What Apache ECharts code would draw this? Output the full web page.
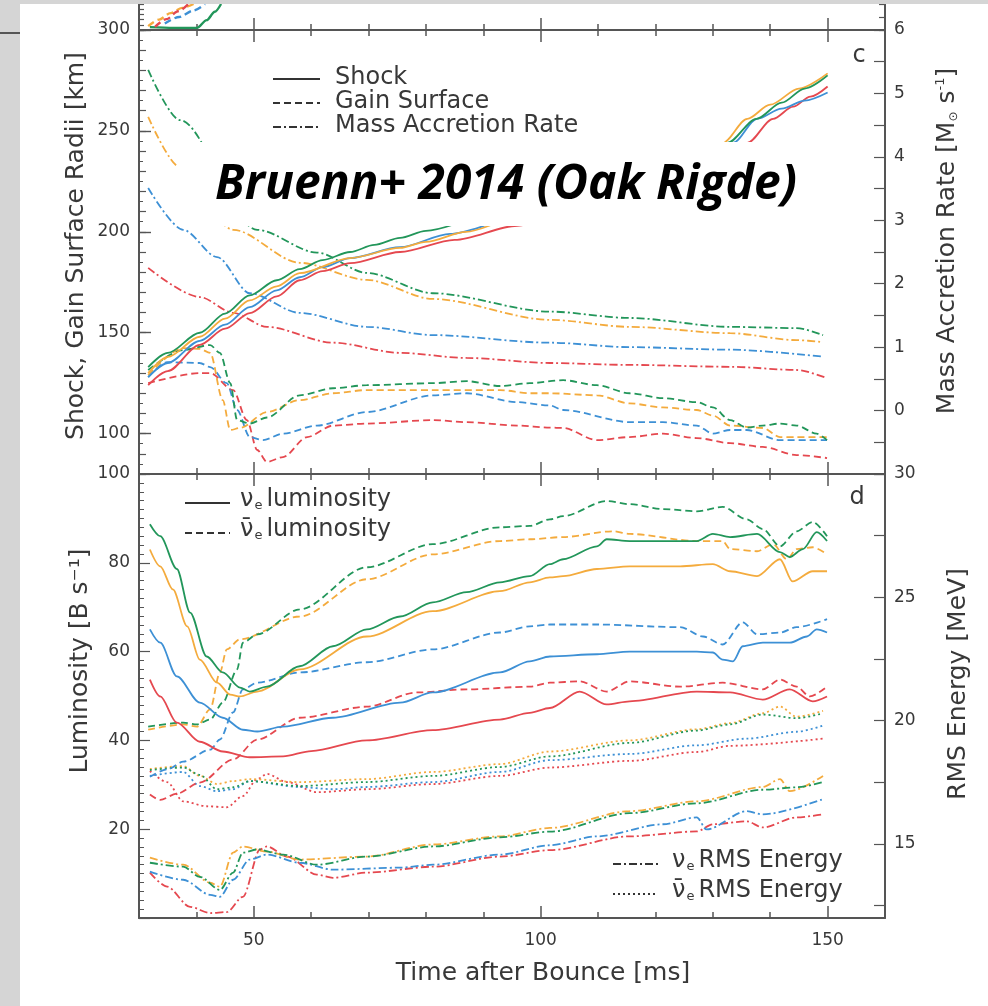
<!DOCTYPE html>
<html>
<head>
<meta charset="utf-8">
<script src="https://cdn.jsdelivr.net/npm/echarts@6/dist/echarts.min.js"></script>
<style>
  html, body { margin: 0; padding: 0; background: #ffffff; }
  #chart { width: 988px; height: 1006px; }
</style>
</head>
<body>
<div id="chart"></div>
<script>
// ---- model colours ----
const C12 = '#e5484f', C15 = '#3d90d5', C20 = '#f4ab3d', C25 = '#22965a';

// ---- axis tick labels ----
const timeLabels = [50, 100, 150];
const radiusLabels = [100, 150, 200, 250, 300];
const rmsTicks = [12.5, 15, 17.5, 20, 22.5, 25, 27.5, 30];
const rmsLabels = [15, 20, 25, 30];

// ---- panel b (bottom edge only) ----
const panelB_B25 = [[31.9,1.1],[36,0.8],[40.1,0.8],[41.8,3.8],[43.2,7],[44.3,10]];
const panelB_B20 = [[31.6,1.5],[33.5,4],[35.5,6.5],[37.5,8.5],[39.5,10]];
const panelB_B12 = [[32.8,1.2],[34.8,4.2],[36.8,7.2],[38.6,10]];
const panelB_B15 = [[34.5,2.5],[37,5],[39.5,7.5],[41.5,10]];

// ---- panel c: shock radius [km] ----
const shockB12 = [[31.6,124],[35,131],[40.6,144],[45,152],[49.3,159.7],[54,168],[58,176],[62,180.5],[66.8,184.5],[75.5,190],[85,196],[95.9,203],[105,210],[115,219],[125,229],[131,236],[136,244],[140.5,256],[144,262],[147,267],[150,272]];
const shockB15 = [[31.6,128],[35,135],[40.6,146],[45,154],[49.3,162.7],[54,171],[58,177.5],[62,182.5],[66.8,187],[75.5,192.4],[84.2,199],[95,206],[105,214],[115,223],[125,234],[133.5,244],[137.7,256],[142,261],[146,265],[150,269]];
const shockB20 = [[31.6,130],[35,138],[40.6,148],[45,157],[49.3,166],[54,173],[58,179.5],[66.8,187],[75.5,192],[80,195],[87,200],[95,206],[105,214],[115,224],[125,235],[131.7,244],[136,256],[140,263],[145,271],[150,278.5]];
const shockB25 = [[31.6,133],[35,140],[40.6,150],[45,159.5],[49.3,168.5],[54,176],[58,181.5],[62,186],[66.8,190],[71,193.5],[75.5,197],[80,200.5],[90,207],[100,214],[110,222],[120,230],[127,238],[132.5,244],[137.6,256],[142,264],[146,271],[150,277.5]];

// ---- panel c: gain surface radius [km] ----
const gainB12 = [[31.6,125],[40.6,130],[42.4,130],[46.4,121.6],[48.8,106.7],[50.6,91.9],[52.3,86],[55.1,88.4],[59.3,98.3],[63.8,104],[69.7,105],[81.2,106.7],[87.1,105.7],[95.9,104],[101.6,103],[103.9,102.8],[109.8,96.8],[115.5,98.3],[121.3,100],[127.2,97.8],[133,95.3],[138.7,93.4],[144.6,89.4],[149.9,87.9]];
const gainB15 = [[31.6,128],[34.9,135.4],[40.6,135],[42.4,133],[45.3,125],[47.1,111.7],[49.3,98.3],[51.6,96.8],[55.1,100],[61,104],[69.7,110.7],[81.2,119],[87.1,120],[95.9,115.6],[101.6,114],[103.9,111.7],[115.5,105.7],[121.3,105.7],[127.2,104],[130,100],[133,101.8],[135.9,101.8],[141.7,96.8],[149.9,96.8]];
const gainB20 = [[31.6,129],[37.7,142.4],[40.6,142],[42.4,140],[44.6,116.6],[45.9,101.8],[47.6,102.8],[52.3,110.7],[58,116.6],[63.8,120],[69.7,121.6],[81.2,121.6],[92.9,121.6],[98.1,120],[101.6,120],[109.8,119],[115.5,115],[121.3,113],[127.2,111.7],[130,109],[133,104],[138.7,102.8],[141.7,98.3],[144.6,98.3],[149.9,98.3]];
const gainB25 = [[31.6,131.5],[37.7,141.4],[42.4,143.9],[44.1,140],[45.9,125],[47.1,106.7],[49.3,105],[52.3,108],[58,119],[63.8,122.5],[69.7,124],[81.2,125],[87.1,126],[92.9,123.6],[98.1,125],[103.9,126.5],[109.8,124],[115.5,120],[121.3,117.6],[127.2,115.6],[130,113],[133,106.7],[135.9,103],[138.7,104],[141.7,105],[144.6,104],[148.1,100],[149.9,96.8]];

// ---- panel c: mass accretion rate [Msun/s] ----
const mdotB12 = [[31.6,2.25],[40.6,1.79],[46.4,1.54],[52.3,1.32],[63.8,1.07],[75.5,0.91],[87.1,0.83],[101.6,0.75],[115.5,0.72],[133,0.69],[144.6,0.64],[149.9,0.51]];
const mdotB15 = [[31.6,3.51],[37.7,2.85],[43.6,2.42],[49.3,1.85],[58,1.54],[69.7,1.32],[81.2,1.19],[101.6,1.07],[115.5,1.0],[133,0.96],[149.2,0.85]];
const mdotB20 = [[31.6,4.63],[37.1,3.84],[46.4,2.85],[58,2.33],[69.7,2.06],[81.2,1.76],[101.6,1.43],[115.5,1.32],[133,1.22],[144.6,1.11],[149.2,1.08]];
const mdotB25 = [[31.6,5.37],[37.1,4.58],[50.6,2.85],[61,2.49],[69.7,2.17],[81.2,1.85],[101.6,1.56],[115.5,1.46],[133,1.32],[144.6,1.3],[149.2,1.19]];

// ---- panel d: nu_e luminosity [B/s] ----
const lumNeB12 = [[31.9,53.7],[33.7,49.9],[36.6,44],[40.6,39.7],[44.6,37.5],[49.3,36.2],[55.1,36.4],[60,37.6],[69.7,40],[81.2,42.3],[92.9,44.7],[98.1,46.2],[101.6,47.3],[106.8,51],[111.5,48.1],[115.5,48.8],[127.2,51],[133,50.8],[138.7,49.2],[143.4,51.5],[147.4,48.8],[149.9,49.9]];
const lumNeB15 = [[31.9,65],[33.7,62],[36.6,54.4],[40.6,48.5],[44.6,45.1],[48.1,42.4],[50.6,42],[55.1,43.1],[63.8,45.1],[75.5,48.5],[81.2,50.8],[92.9,55.3],[98.1,57.8],[101.6,58.9],[109.8,59.4],[115.5,60],[127.2,60],[130,59.8],[131.7,58.2],[133.5,57.8],[135.2,61.2],[138.7,62],[143.4,62],[146.4,63.4],[148.1,65],[149.9,64.3]];
const lumNeB20 = [[31.9,83],[33.7,79.2],[35.9,74],[38.4,65.7],[40.6,58.2],[43.6,53],[45.9,50.3],[47.6,49.9],[50.6,51],[58,56],[69.7,63.4],[81.2,69.1],[92.9,73.6],[98.1,75.6],[101.6,76.7],[103.9,77],[109.8,78.6],[115.5,79.2],[124.3,79.2],[130,79.7],[133,78.1],[137.7,77],[141.7,80.8],[143.9,75.8],[147.4,78.1],[149.9,78.1]];
const lumNeB25 = [[31.9,88.7],[33.7,86],[36.6,78.6],[38.9,68.8],[41.8,58.9],[44.6,55.3],[47.6,51.9],[49.3,51],[52.3,52.1],[58,56.7],[63.8,61.2],[69.7,65],[75.5,67.9],[81.2,71.1],[87.1,73.4],[92.9,75.6],[98.1,77],[101.6,79.7],[103.9,80.8],[109.8,83.7],[111.5,85.3],[115.5,84.9],[121.3,84.9],[127.2,84.9],[130,86.5],[133,85.8],[137.7,86.5],[141.7,82.4],[143.4,81.3],[145.7,83.1],[148.1,86.9],[149.9,84.9]];

// ---- panel d: anti-nu_e luminosity [B/s] ----
const lumAeB12 = [[31.9,27.8],[33.7,26.6],[36.6,28],[40.6,30.5],[46.4,35.7],[50.6,40.2],[58,45.1],[69.7,47.6],[78.4,50.8],[87.1,51.5],[98.1,52.1],[101.6,53],[106.8,53.3],[111.5,51],[115.5,53.3],[124.3,52.1],[131.7,53],[138.7,51.5],[141.7,53.7],[144.6,52.1],[146.9,49.9],[149.9,52.1]];
const lumAeB15 = [[31.9,31.8],[35,33.5],[37.7,35.2],[42.4,37.9],[44.1,40.2],[46.4,46.3],[48.1,51.5],[50.6,53],[58,55.3],[69.7,57.6],[81.2,60.5],[92.9,64.3],[98.1,65.7],[101.6,66.1],[109.8,66.1],[124.3,65.5],[128.3,63.4],[131.7,61.6],[135.2,66.6],[137.7,63.9],[141.7,64.3],[144.6,65.5],[149.9,67.3]];
const lumAeB20 = [[31.6,42.4],[37.7,43.6],[40.1,43.1],[42.4,47],[44.1,55.3],[45.3,60.5],[47.6,62.8],[58,67.9],[69.7,76.3],[81.2,81.9],[92.9,84.9],[98.1,85.3],[103.9,85.8],[112.6,87.1],[115.5,86.5],[127.2,84.9],[131.7,84.9],[133,83.1],[137.7,82.6],[140.5,84.2],[142.9,80.8],[144.6,83.1],[147.4,83.5],[149.9,81.9]];
const lumAeB25 = [[31.6,43.1],[37.7,44],[40.1,43.6],[42.4,44.7],[44.6,48.5],[47.1,56],[48.1,62],[50.6,63.9],[58,69.5],[69.7,79],[81.2,84.2],[92.9,88],[98.1,88.3],[101.6,89.8],[103.9,90.5],[111.5,93.9],[115.5,93.2],[121.3,92.1],[127.2,91.6],[131.7,92.6],[135.9,89.8],[138.7,87.6],[141.7,83.7],[144.6,87.1],[147.4,89.2],[149.9,86]];

// ---- panel d: nu_e RMS energy [MeV] ----
const rmsNeB12 = [[31.9,13.84],[34.9,13.27],[38.9,12.45],[42.4,12.2],[45.3,12.24],[48.1,12.86],[51.1,14.78],[52.3,14.9],[55.8,14.49],[61,13.76],[63.8,13.63],[69.7,13.84],[81.2,14.08],[92.9,14.49],[101.6,14.75],[115.5,15.31],[127.2,15.51],[130,15.8],[135.9,15.92],[138.7,15.67],[144.6,16.08],[149.2,16.2]];
const rmsNeB15 = [[31.9,13.88],[37.7,13.55],[42.4,12.94],[44.1,12.86],[46.4,13.55],[49.3,14.37],[52.3,14.57],[58,14.24],[63.8,13.96],[75.5,14.04],[81.2,14.16],[92.9,14.57],[101.6,14.95],[109.8,15.31],[121.3,15.8],[127.2,16.08],[128.9,15.59],[135.9,16.33],[138.7,16.2],[149.2,16.82]];
const rmsNeB20 = [[31.9,14.45],[37.7,14.16],[42.4,13.43],[44.1,13.27],[46.4,14.65],[48.1,14.9],[52.3,14.69],[58,14.37],[69.7,14.49],[81.2,14.98],[92.9,15.31],[101.6,15.65],[115.5,16.33],[127.2,16.73],[138.7,17.31],[141.7,17.63],[143.4,17.14],[149.2,17.76]];
const rmsNeB25 = [[31.9,14.24],[37.7,14.08],[40.6,13.67],[44.1,13.14],[46.4,13.84],[48.1,14.65],[50.6,14.78],[55.1,14.57],[61,14.16],[69.7,14.49],[81.2,14.9],[92.9,15.27],[101.6,15.5],[115.5,16.25],[127.2,16.65],[138.7,17.2],[144.6,17.3],[149.2,17.51]];

// ---- panel d: anti-nu_e RMS energy [MeV] ----
const rmsAeB12 = [[31.9,17.96],[34.9,17.51],[37.7,16.73],[41.8,16.53],[45.3,16.49],[48.1,16.94],[50.6,17.63],[52.3,17.84],[55.8,17.51],[61,17.1],[69.7,17.22],[81.2,17.43],[92.9,17.76],[101.6,18.1],[115.5,18.37],[127.2,18.73],[133,18.98],[149.2,19.27]];
const rmsAeB15 = [[31.9,17.76],[37.7,17.92],[40.6,17.35],[43.6,17.14],[46.4,17.22],[49.3,17.55],[58,17.31],[63.8,17.22],[69.7,17.31],[81.2,17.51],[92.9,17.92],[101.6,18.4],[115.5,18.65],[127.2,19.0],[135.9,19.27],[144.6,19.55],[149.2,19.8]];
const rmsAeB20 = [[31.9,18.04],[37.7,18.16],[40.6,17.76],[43.6,17.43],[46.4,17.55],[49.3,17.63],[58,17.51],[69.7,17.63],[81.2,17.92],[92.9,18.24],[101.6,18.75],[115.5,19.2],[127.2,19.65],[133,19.9],[138.7,20.3],[141.7,20.57],[144.6,20.16],[149.2,20.4]];
const rmsAeB25 = [[31.9,18.0],[37.7,18.1],[40.6,17.8],[43.6,17.22],[46.4,17.3],[49.3,17.55],[58,17.35],[69.7,17.51],[81.2,17.76],[92.9,18.12],[101.6,18.55],[115.5,19.1],[127.2,19.6],[133,19.85],[138.7,20.25],[144.6,20.1],[149.2,20.3]];

// ---- line styles ----
const SOLID = 'solid', DASH = [7, 4], DASHDOT = [8, 3, 2, 3], DOT = [2, 3];
const AXIS = '#555555', TXT = '#383838';
const FONT = '"DejaVu Sans", sans-serif';

function curve(data, color, dash, xi, yi, w) {
  return {
    type: 'line', data: data, xAxisIndex: xi, yAxisIndex: yi,
    showSymbol: false, symbol: 'none', smooth: 0.3, smoothMonotone: 'x',
    silent: true, emphasis: { disabled: true },
    lineStyle: { color: color, width: w || 1.8, type: dash }
  };
}

function xAx(grid, pos, labels) {
  return {
    type: 'value', gridIndex: grid, position: pos, min: 30, max: 160, interval: 10,
    axisLine: { onZero: false, lineStyle: { color: AXIS, width: 2 } },
    axisTick: { inside: true, length: 6, lineStyle: { color: AXIS, width: 1.5 } },
    axisLabel: labels ? {
      color: TXT, fontFamily: FONT, fontSize: 17, margin: 14,
      formatter: v => (timeLabels.indexOf(v) >= 0 ? String(v) : '')
    } : { show: false },
    splitLine: { show: false }
  };
}
// longer ticks at the labelled times, drawn on an overlaid axis
function xMajor(grid, pos) {
  return {
    type: 'value', gridIndex: grid, position: pos, min: 30, max: 160,
    axisLine: { show: false, onZero: false },
    axisTick: { inside: true, length: 12, customValues: timeLabels, lineStyle: { color: AXIS, width: 1.5 } },
    axisLabel: { show: false }, splitLine: { show: false }
  };
}

const tickLbl = { color: TXT, fontFamily: FONT, fontSize: 17, margin: 9 };
const yLine = { onZero: false, lineStyle: { color: AXIS, width: 2 } };

const xAxis = [
  xAx(0, 'bottom', false),
  xAx(1, 'top', false),
  xAx(1, 'bottom', false),
  xAx(2, 'top', false),
  xAx(2, 'bottom', true),
  xMajor(0, 'bottom'),
  xMajor(1, 'top'),
  xMajor(1, 'bottom'),
  xMajor(2, 'top'),
  xMajor(2, 'bottom')
];

const yAxis = [
  { type: 'value', gridIndex: 0, position: 'left', min: 0, max: 10, interval: 2,
    axisLine: yLine,
    axisTick: { inside: true, length: 5, lineStyle: { color: AXIS, width: 1.2 } },
    axisLabel: { show: false }, splitLine: { show: false } },
  { type: 'value', gridIndex: 0, position: 'right', min: 0, max: 10, interval: 5,
    axisLine: yLine,
    axisTick: { inside: true, length: 6, lineStyle: { color: AXIS, width: 1.2 } },
    axisLabel: { show: false }, splitLine: { show: false } },
  // shock / gain radius
  { type: 'value', gridIndex: 1, position: 'left', min: 80, max: 300, interval: 10,
    axisLine: yLine,
    axisTick: { inside: true, length: 7, lineStyle: { color: AXIS, width: 1.2 } },
    minorTick: { show: true, splitNumber: 2, length: 4, lineStyle: { color: AXIS, width: 1 } },
    axisLabel: Object.assign({}, tickLbl, { formatter: v => (radiusLabels.indexOf(v) >= 0 ? String(v) : '') }),
    splitLine: { show: false } },
  // mass accretion rate
  { type: 'value', gridIndex: 1, position: 'right', min: -1, max: 6, interval: 0.5,
    axisLine: yLine,
    axisTick: { inside: true, length: 11, lineStyle: { color: AXIS, width: 1.2 } },
    axisLabel: Object.assign({}, tickLbl, { formatter: v => (Number.isInteger(v) && v >= 0 ? String(v) : '') }),
    splitLine: { show: false } },
  // luminosity
  { type: 'value', gridIndex: 2, position: 'left', min: 0, max: 100, interval: 20,
    axisLine: yLine,
    axisTick: { inside: true, length: 11, lineStyle: { color: AXIS, width: 1.2 } },
    minorTick: { show: true, splitNumber: 10, length: 5, lineStyle: { color: AXIS, width: 1 } },
    axisLabel: Object.assign({}, tickLbl, { formatter: v => (v > 0 ? String(v) : '') }),
    splitLine: { show: false } },
  // RMS energy
  { type: 'value', gridIndex: 2, position: 'right', min: 12, max: 30,
    axisLine: yLine,
    axisTick: { inside: true, length: 11, customValues: rmsTicks, lineStyle: { color: AXIS, width: 1.2 } },
    axisLabel: Object.assign({}, tickLbl, { customValues: rmsLabels }),
    splitLine: { show: false } },
  // longer ticks at the labelled radii
  { type: 'value', gridIndex: 1, position: 'left', min: 80, max: 300,
    axisLine: { show: false, onZero: false },
    axisTick: { inside: true, length: 12, customValues: radiusLabels, lineStyle: { color: AXIS, width: 1.4 } },
    axisLabel: { show: false }, splitLine: { show: false } }
];

const grid = [
  { left: 139, right: 103, top: 4, height: 26 },
  { left: 139, right: 103, top: 30, height: 444 },
  { left: 139, right: 103, top: 474, height: 444 }
];

const series = [
  // panel b
  curve(panelB_B25, C25, SOLID, 0, 0, 2.4),
  curve(panelB_B20, C20, DASH, 0, 0, 2.4),
  curve(panelB_B12, C12, DASH, 0, 0, 2.4),
  curve(panelB_B15, C15, DASH, 0, 0, 2.4),
  // panel c
  curve(mdotB12, C12, DASHDOT, 2, 3), curve(mdotB15, C15, DASHDOT, 2, 3),
  curve(mdotB20, C20, DASHDOT, 2, 3), curve(mdotB25, C25, DASHDOT, 2, 3),
  curve(gainB12, C12, DASH, 2, 2), curve(gainB15, C15, DASH, 2, 2),
  curve(gainB20, C20, DASH, 2, 2), curve(gainB25, C25, DASH, 2, 2),
  curve(shockB12, C12, SOLID, 2, 2), curve(shockB15, C15, SOLID, 2, 2),
  curve(shockB20, C20, SOLID, 2, 2), curve(shockB25, C25, SOLID, 2, 2),
  // panel d
  curve(rmsAeB12, C12, DOT, 4, 5), curve(rmsAeB15, C15, DOT, 4, 5),
  curve(rmsAeB20, C20, DOT, 4, 5), curve(rmsAeB25, C25, DOT, 4, 5),
  curve(rmsNeB12, C12, DASHDOT, 4, 5), curve(rmsNeB15, C15, DASHDOT, 4, 5),
  curve(rmsNeB20, C20, DASHDOT, 4, 5), curve(rmsNeB25, C25, DASHDOT, 4, 5),
  curve(lumAeB12, C12, DASH, 4, 4), curve(lumAeB15, C15, DASH, 4, 4),
  curve(lumAeB20, C20, DASH, 4, 4), curve(lumAeB25, C25, DASH, 4, 4),
  curve(lumNeB12, C12, SOLID, 4, 4), curve(lumNeB15, C15, SOLID, 4, 4),
  curve(lumNeB20, C20, SOLID, 4, 4), curve(lumNeB25, C25, SOLID, 4, 4)
];

// ---- annotation text ----
const BANNER = 'Bruenn+ 2014 (Oak Rigde)';
const BANNER_FONT = 'italic bold 49px "Open Sans"';
const BANNER_WIDTH = 582;
const mctx = document.createElement('canvas').getContext('2d');
mctx.font = BANNER_FONT;
const bannerScale = BANNER_WIDTH / mctx.measureText(BANNER).width;

const richBase = {
  a: { fontFamily: FONT, fontSize: 24, color: TXT },
  s: { fontFamily: FONT, fontSize: 13, color: TXT, verticalAlign: 'bottom', padding: [0, 4, 0, 1] }
};

function legendLine(x1, x2, y, dash) {
  return { type: 'line', shape: { x1: x1, y1: y, x2: x2, y2: y }, z: 50,
    style: { stroke: '#333', lineWidth: 2, lineDash: dash === SOLID ? null : dash } };
}
function label(x, y, text, opts, rotation) {
  const el = { type: 'text', x: x, y: y, z: 50,
    style: Object.assign({ text: text, font: '24px ' + FONT, fill: TXT,
      align: 'left', verticalAlign: 'middle' }, opts || {}) };
  if (rotation) el.rotation = rotation;
  return el;
}
const UP = Math.PI / 2;  // vertical titles read bottom to top

const graphic = [
  // page margins
  { type: 'rect', shape: { x: 0, y: 0, width: 988, height: 4 }, style: { fill: '#d5d5d5' }, z: 60 },
  { type: 'rect', shape: { x: 0, y: 0, width: 20, height: 1006 }, style: { fill: '#d5d5d5' }, z: 60 },
  { type: 'line', shape: { x1: 0, y1: 33, x2: 20, y2: 33 }, style: { stroke: '#555', lineWidth: 2 }, z: 61 },

  // panel c legend
  legendLine(273, 320, 79, SOLID), label(335, 78, 'Shock'),
  legendLine(273, 320, 103, DASH), label(335, 102, 'Gain Surface'),
  legendLine(273, 320, 127, DASHDOT), label(335, 126, 'Mass Accretion Rate'),
  label(859, 56, 'c', { align: 'center' }),

  // panel d legends
  legendLine(185, 230, 503, SOLID),
  label(240, 500, '{a|ν}{s|e}{a|luminosity}', { rich: richBase }),
  legendLine(185, 230, 533, DASH),
  label(240, 530, '{a|ν̄}{s|e}{a|luminosity}', { rich: richBase }),
  label(857, 498, 'd', { align: 'center' }),
  legendLine(613, 658, 864, DASHDOT),
  label(672, 861, '{a|ν}{s|e}{a|RMS Energy}', { rich: richBase }),
  legendLine(613, 658, 894, DOT),
  label(672, 891, '{a|ν̄}{s|e}{a|RMS Energy}', { rich: richBase }),

  // axis titles
  label(76, 246, 'Shock, Gain Surface Radii [km]', { align: 'center', font: '25px ' + FONT }, UP),
  label(80, 661, 'Luminosity [B s⁻¹]', { align: 'center', font: '25px ' + FONT }, UP),
  label(947, 241, '{b|Mass Accretion Rate [M}{t|⊙}{b| s}{p|-1}{b|]}', { align: 'center',
    rich: { b: { fontFamily: FONT, fontSize: 25, color: TXT },
            t: { fontFamily: FONT, fontSize: 12, color: TXT, verticalAlign: 'bottom' },
            p: { fontFamily: FONT, fontSize: 13, color: TXT, verticalAlign: 'top' } } }, UP),
  label(958, 684, 'RMS Energy [MeV]', { align: 'center', font: '25px ' + FONT }, UP),
  label(543, 973, 'Time after Bounce [ms]', { align: 'center', font: '25px ' + FONT }),

  // banner
  { type: 'rect', shape: { x: 178, y: 142, width: 654, height: 84 }, style: { fill: '#ffffff' }, z: 70 },
  { type: 'text', x: 215, y: 185, scaleX: bannerScale, z: 71,
    style: { text: BANNER, font: BANNER_FONT, fill: '#000000', align: 'left', verticalAlign: 'middle' } }
];

const chart = echarts.init(document.getElementById('chart'), null, { renderer: 'canvas' });
chart.setOption({
  backgroundColor: '#ffffff',
  animation: false,
  grid: grid,
  xAxis: xAxis,
  yAxis: yAxis,
  series: series,
  graphic: graphic
});
</script>
</body>
</html>
